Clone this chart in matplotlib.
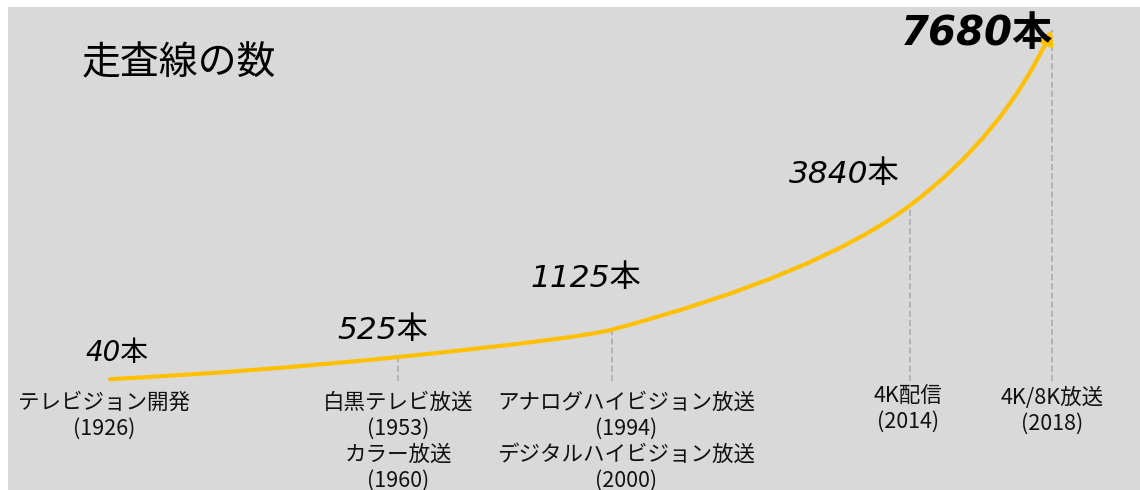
import numpy as np
import matplotlib
matplotlib.use("Agg")
import matplotlib.pyplot as plt
import matplotlib.transforms as mtransforms
from matplotlib.path import Path
from matplotlib.patches import FancyArrowPatch

# Number of scan lines at each milestone
scan_lines = [40, 525, 1125, 3840, 7680]
value_labels = ["40本", "525本", "1125本", "3840本", "7680本"]

# Milestones (name, year); some positions carry two milestones
event_names = [["テレビジョン開発"],
               ["白黒テレビ放送", "カラー放送"],
               ["アナログハイビジョン放送", "デジタルハイビジョン放送"],
               ["4K配信"],
               ["4K/8K放送"]]
event_years = [[1926], [1953, 1960], [1994, 2000], [2014], [2018]]

title = "走査線の数"

# Layout: schematic position of each milestone along the timeline (0-100)
timeline_pos = [0, 30.6, 53.3, 84.9, 100]
value_offsets = [(5, 19), (-11, 19), (-19, 37), (-47, 22), (1, -3)]  # points
value_sizes = [20, 22.5, 22.5, 22.5, 29]
value_weights = ["normal", "normal", "normal", "normal", "bold"]
value_ha = ["center", "center", "center", "center", "right"]
label_top = [0.180, 0.180, 0.180, 0.195, 0.191]   # axes fraction
label_shift = [-4, 0, 10, -1, 0]                  # points
row_step = 0.0535

CJK = "Noto Sans CJK JP"
GOLD = "#FFC000"
BG = "#D9D9D9"

fig = plt.figure(figsize=(11.4, 4.9), dpi=100, facecolor="white")
ax = fig.add_axes([8 / 1140, 0, 1132 / 1140, 483 / 490], facecolor=BG)
ax.set_xlim(-10.83, 109.34)
ax.set_ylim(-2385, 8184)
for s in ax.spines.values():
    s.set_visible(False)
ax.set_xticks([])
ax.set_yticks([])


def smooth_path(ax, xs, ys):
    """Smooth convex curve through the points.  Tangents bisect neighbouring
    chords (measured on screen); each span is a quadratic Bezier whose control
    point is where the two end tangents meet.  Returned in data units."""
    P = ax.transData.transform(np.column_stack([xs, ys]))
    n = len(P)
    chords = np.diff(P, axis=0)
    u = chords / np.hypot(chords[:, 0], chords[:, 1])[:, None]
    T = np.zeros_like(P)
    for i in range(1, n - 1):
        b = u[i - 1] + u[i]
        T[i] = b / np.hypot(*b)
    # end tangents mirrored about the end chords
    T[0] = 2 * np.dot(u[0], T[1]) * u[0] - T[1]
    T[-1] = 2 * np.dot(u[-1], T[-2]) * u[-1] - T[-2]
    verts = [P[0]]
    codes = [Path.MOVETO]
    for i in range(n - 1):
        A = np.column_stack([T[i], T[i + 1]])
        s, r = np.linalg.solve(A, P[i + 1] - P[i])
        ctrl = P[i] + s * T[i]
        verts += [ctrl, P[i + 1]]
        codes += [Path.CURVE3] * 2
    verts = ax.transData.inverted().transform(np.array(verts))
    return Path(verts, codes)


# Dashed drop lines from the curve to the milestone labels
ax.vlines(timeline_pos[1:], 0, scan_lines[1:], colors="#A8A8A8",
          linewidth=1.1, linestyles=(0, (4, 2)), zorder=1)

# Growth curve with arrow head
arrow = FancyArrowPatch(path=smooth_path(ax, timeline_pos, scan_lines),
                        arrowstyle="-|>,head_length=0.42,head_width=0.24",
                        mutation_scale=18, color=GOLD, linewidth=3,
                        transform=ax.transData, zorder=3)
ax.add_patch(arrow)

# Value labels
for x, v, lab, off, fs, fw, ha in zip(timeline_pos, scan_lines, value_labels,
                                      value_offsets, value_sizes,
                                      value_weights, value_ha):
    ax.annotate(lab, xy=(x, v), xytext=off, textcoords="offset points",
                ha=ha, va="center", fontsize=fs, fontweight=fw,
                fontstyle="oblique", family=["DejaVu Sans", CJK],
                color="black", zorder=4)

# Milestone labels
blend = mtransforms.blended_transform_factory(ax.transData, ax.transAxes)
for x, names, years, top, dx in zip(timeline_pos, event_names, event_years,
                                    label_top, label_shift):
    lines = []
    for nm, yr in zip(names, years):
        lines += [nm, f"({yr})"]
    for k, line in enumerate(lines):
        ax.annotate(line, xy=(x, top - k * row_step), xycoords=blend,
                    xytext=(dx, 0), textcoords="offset points",
                    ha="center", va="center", fontsize=15.5,
                    family=[CJK, "DejaVu Sans"], color="#111111")

ax.text(0.0654, 0.884, title, transform=ax.transAxes, ha="left", va="center",
        fontsize=28, family=[CJK, "DejaVu Sans"], color="black")

fig.savefig("out.png", dpi=100, facecolor="white")
